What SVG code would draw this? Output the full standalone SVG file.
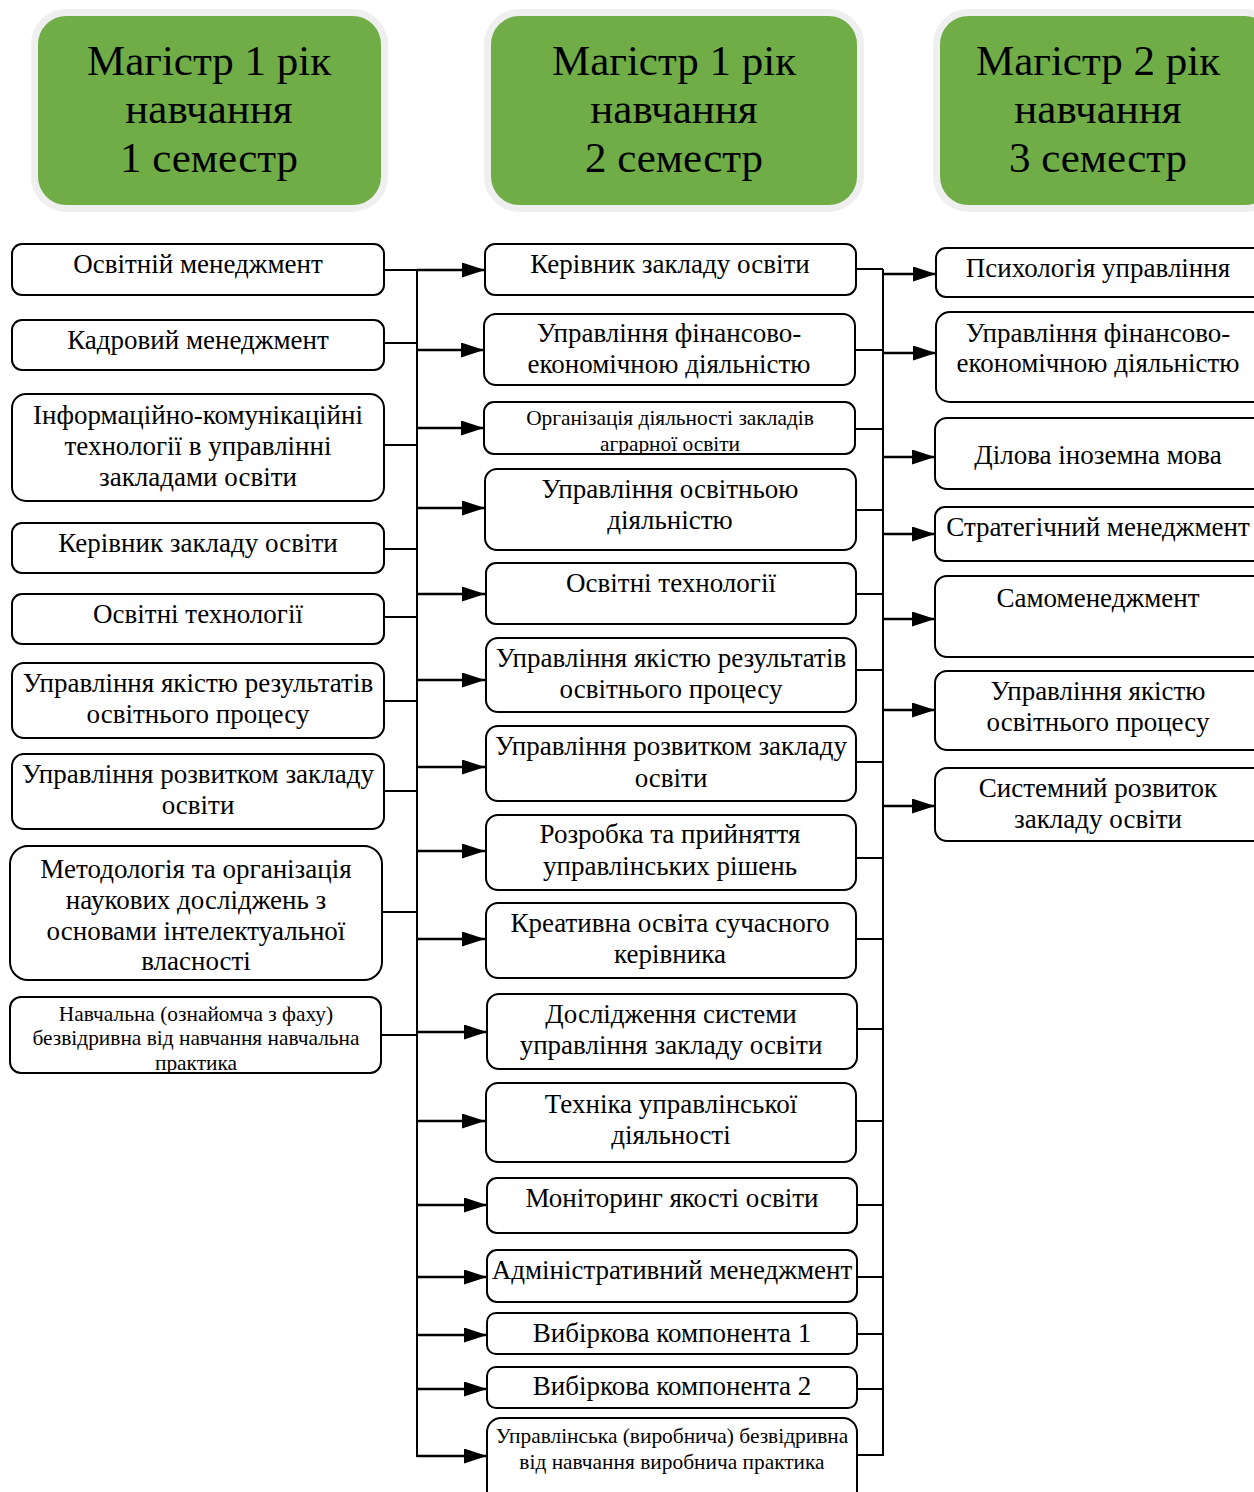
<svg xmlns="http://www.w3.org/2000/svg" width="1254" height="1492" viewBox="0 0 1254 1492">
<style>
.hdr{fill:#70ad47;stroke:#efefef;stroke-width:7}
.ht{font-family:"Liberation Serif","Times New Roman",serif;font-size:43px;fill:#000;text-anchor:middle}
.bx{fill:#fff;stroke:#000;stroke-width:2}
.t{font-family:"Liberation Serif","Times New Roman",serif;font-size:27px;fill:#000;text-anchor:middle}
.s{font-family:"Liberation Serif","Times New Roman",serif;font-size:21.4px;fill:#000;text-anchor:middle}
.c{stroke:#000;stroke-width:2;fill:none}
.a{stroke:#000;stroke-width:2.5;fill:none;marker-end:url(#ah)}
</style>
<defs>
<marker id="ah" markerUnits="userSpaceOnUse" markerWidth="24" markerHeight="16" refX="23" refY="7.5" orient="auto">
<path d="M0,0 L23,7.5 L0,15 Z" fill="#000"/>
</marker>
<clipPath id="cpL9"><rect x="10" y="997" width="371" height="76" rx="11"/></clipPath>
<clipPath id="cpM3"><rect x="484" y="402" width="371" height="52" rx="10"/></clipPath>
</defs>
<rect width="1254" height="1492" fill="#fff"/>

<g id="header1"><rect class="hdr" x="34.5" y="12.5" width="350" height="196" rx="32"/>
<text class="ht" x="209" y="75">Магістр 1 рік</text><text class="ht" x="209" y="123">навчання</text><text class="ht" x="209" y="172">1 семестр</text></g>
<g id="header2"><rect class="hdr" x="487.5" y="12.5" width="373" height="196" rx="32"/>
<text class="ht" x="674" y="75">Магістр 1 рік</text><text class="ht" x="674" y="123">навчання</text><text class="ht" x="674" y="172">2 семестр</text></g>
<g id="header3"><rect class="hdr" x="936.5" y="12.5" width="340" height="196" rx="32"/>
<text class="ht" x="1098" y="75">Магістр 2 рік</text><text class="ht" x="1098" y="123">навчання</text><text class="ht" x="1098" y="172">3 семестр</text></g>

<g id="connectors">
<path class="c" d="M417,269 V1457"/>
<path class="c" d="M384,270 H417 M384,343 H417 M384,445 H417 M384,549 H417 M384,617 H417 M384,701 H417 M384,791 H417 M382,912 H417 M381,1035 H417"/>
<path class="a" d="M417,270 H485"/>
<path class="a" d="M417,350 H484"/>
<path class="a" d="M417,428 H484"/>
<path class="a" d="M417,508 H485"/>
<path class="a" d="M417,594 H485"/>
<path class="a" d="M417,680 H485"/>
<path class="a" d="M417,767 H485"/>
<path class="a" d="M417,851 H485"/>
<path class="a" d="M417,939 H485"/>
<path class="a" d="M417,1032 H487"/>
<path class="a" d="M417,1121 H485"/>
<path class="a" d="M417,1205 H487"/>
<path class="a" d="M417,1277 H487"/>
<path class="a" d="M417,1335 H487"/>
<path class="a" d="M417,1389 H487"/>
<path class="a" d="M417,1456 H487"/>
<path class="c" d="M883,269 V1456"/>
<path class="c" d="M856,269 H883 M855,350 H883 M855,429 H883 M856,510 H883 M856,594 H883 M856,670 H883 M856,762 H883 M856,858 H883 M856,939 H883 M857,1029 H883 M856,1121 H883 M857,1205 H883 M857,1277 H883 M857,1334 H883 M857,1389 H883 M857,1455 H883"/>
<path class="a" d="M883,274 H936"/>
<path class="a" d="M883,353 H936"/>
<path class="a" d="M883,457 H935"/>
<path class="a" d="M883,534 H935"/>
<path class="a" d="M883,619 H935"/>
<path class="a" d="M883,710 H935"/>
<path class="a" d="M883,806 H935"/>
</g>

<g id="l1"><rect class="bx" x="12" y="244" width="372" height="51" rx="10"/><text class="t" x="198" y="273">Освітній менеджмент</text></g>
<g id="l2"><rect class="bx" x="12" y="320" width="372" height="50" rx="10"/><text class="t" x="198" y="349">Кадровий менеджмент</text></g>
<g id="l3"><rect class="bx" x="12" y="394" width="372" height="107" rx="14"/><text class="t" x="198" y="424">Інформаційно-комунікаційні</text><text class="t" x="198" y="455">технології в управлінні</text><text class="t" x="198" y="486">закладами освіти</text></g>
<g id="l4"><rect class="bx" x="12" y="523" width="372" height="50" rx="10"/><text class="t" x="198" y="552">Керівник закладу освіти</text></g>
<g id="l5"><rect class="bx" x="12" y="594" width="372" height="50" rx="10"/><text class="t" x="198" y="623">Освітні технології</text></g>
<g id="l6"><rect class="bx" x="12" y="663" width="372" height="75" rx="12"/><text class="t" x="198" y="692">Управління якістю результатів</text><text class="t" x="198" y="723">освітнього процесу</text></g>
<g id="l7"><rect class="bx" x="12" y="754" width="372" height="75" rx="12"/><text class="t" x="198" y="783">Управління розвитком закладу</text><text class="t" x="198" y="814">освіти</text></g>
<g id="l8"><rect class="bx" x="10" y="846" width="372" height="134" rx="18"/><text class="t" x="196" y="878">Методологія та організація</text><text class="t" x="196" y="909">наукових досліджень з</text><text class="t" x="196" y="940">основами інтелектуальної</text><text class="t" x="196" y="970">власності</text></g>
<g id="l9"><rect class="bx" x="10" y="997" width="371" height="76" rx="11"/><g clip-path="url(#cpL9)"><text class="s" x="196" y="1021">Навчальна (ознайомча з фаху)</text><text class="s" x="196" y="1045">безвідривна від навчання навчальна</text><text class="s" x="196" y="1070">практика</text></g></g>

<g id="m1"><rect class="bx" x="485" y="244" width="371" height="51" rx="10"/><text class="t" x="670" y="273">Керівник закладу освіти</text></g>
<g id="m2"><rect class="bx" x="484" y="314" width="371" height="71" rx="12"/><text class="t" x="669" y="342">Управління фінансово-</text><text class="t" x="669" y="373">економічною діяльністю</text></g>
<g id="m3"><rect class="bx" x="484" y="402" width="371" height="52" rx="10"/><g clip-path="url(#cpM3)"><text class="s" x="670" y="425">Організація діяльності закладів</text><text class="s" x="670" y="451">аграрної освіти</text></g></g>
<g id="m4"><rect class="bx" x="485" y="469" width="371" height="81" rx="12"/><text class="t" x="670" y="498">Управління освітньою</text><text class="t" x="670" y="529">діяльністю</text></g>
<g id="m5"><rect class="bx" x="486" y="563" width="370" height="61" rx="10"/><text class="t" x="671" y="592">Освітні технології</text></g>
<g id="m6"><rect class="bx" x="486" y="638" width="370" height="74" rx="12"/><text class="t" x="671" y="667">Управління якістю результатів</text><text class="t" x="671" y="698">освітнього процесу</text></g>
<g id="m7"><rect class="bx" x="486" y="726" width="370" height="75" rx="12"/><text class="t" x="671" y="755">Управління розвитком закладу</text><text class="t" x="671" y="787">освіти</text></g>
<g id="m8"><rect class="bx" x="486" y="815" width="370" height="75" rx="12"/><text class="t" x="670" y="843">Розробка та прийняття</text><text class="t" x="670" y="875">управлінських рішень</text></g>
<g id="m9"><rect class="bx" x="486" y="903" width="370" height="75" rx="12"/><text class="t" x="670" y="932">Креативна освіта сучасного</text><text class="t" x="670" y="963">керівника</text></g>
<g id="m10"><rect class="bx" x="487" y="994" width="370" height="75" rx="12"/><text class="t" x="671" y="1023">Дослідження системи</text><text class="t" x="671" y="1054">управління закладу освіти</text></g>
<g id="m11"><rect class="bx" x="486" y="1083" width="370" height="79" rx="12"/><text class="t" x="671" y="1113">Техніка управлінської</text><text class="t" x="671" y="1144">діяльності</text></g>
<g id="m12"><rect class="bx" x="487" y="1178" width="370" height="55" rx="10"/><text class="t" x="672" y="1207">Моніторинг якості освіти</text></g>
<g id="m13"><rect class="bx" x="487" y="1250" width="370" height="52" rx="10"/><text class="t" x="672" y="1279">Адміністративний менеджмент</text></g>
<g id="m14"><rect class="bx" x="487" y="1313" width="370" height="41" rx="9"/><text class="t" x="672" y="1342">Вибіркова компонента 1</text></g>
<g id="m15"><rect class="bx" x="487" y="1367" width="370" height="41" rx="9"/><text class="t" x="672" y="1395">Вибіркова компонента 2</text></g>
<g id="m16"><rect class="bx" x="487" y="1418" width="370" height="90" rx="14"/><text class="s" x="672" y="1443">Управлінська (виробнича) безвідривна</text><text class="s" x="672" y="1469">від навчання виробнича практика</text></g>

<g id="r1"><rect class="bx" x="936" y="248" width="330" height="49" rx="10"/><text class="t" x="1098" y="277">Психологія управління</text></g>
<g id="r2"><rect class="bx" x="936" y="312" width="330" height="90" rx="14"/><text class="t" x="1098" y="342">Управління фінансово-</text><text class="t" x="1098" y="372">економічною діяльністю</text></g>
<g id="r3"><rect class="bx" x="935" y="418" width="330" height="71" rx="12"/><text class="t" x="1098" y="464">Ділова іноземна мова</text></g>
<g id="r4"><rect class="bx" x="935" y="507" width="330" height="54" rx="10"/><text class="t" x="1098" y="536">Стратегічний менеджмент</text></g>
<g id="r5"><rect class="bx" x="935" y="576" width="330" height="81" rx="12"/><text class="t" x="1098" y="607">Самоменеджмент</text></g>
<g id="r6"><rect class="bx" x="935" y="671" width="330" height="79" rx="12"/><text class="t" x="1098" y="700">Управління якістю</text><text class="t" x="1098" y="731">освітнього процесу</text></g>
<g id="r7"><rect class="bx" x="935" y="768" width="330" height="73" rx="12"/><text class="t" x="1098" y="797">Системний розвиток</text><text class="t" x="1098" y="828">закладу освіти</text></g>
</svg>
